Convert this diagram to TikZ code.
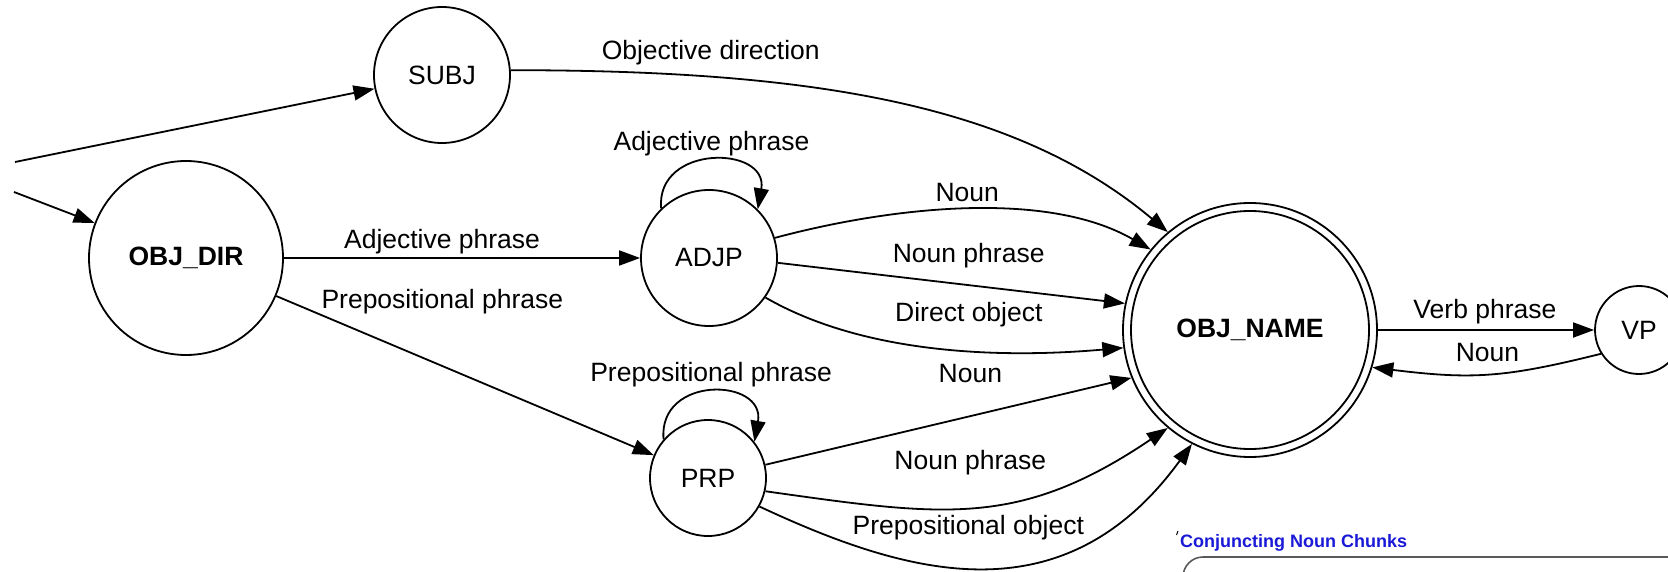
\documentclass[tikz,border=0pt]{standalone}
\usepackage{fontspec}
\setmainfont{Liberation Sans}
\usetikzlibrary{arrows.meta}
\definecolor{cnblue}{RGB}{25,25,215}
\begin{document}
\begin{tikzpicture}[x=1pt,y=1pt,
  every node/.style={font=\fontsize{26.5}{30}\selectfont},
  state/.style={circle, draw, line width=1.8pt, inner sep=0pt},
  boldtext/.style={font=\fontsize{26.5}{30}\selectfont\bfseries},
  edge/.style={line width=1.8pt, -{Triangle[length=21pt,width=15pt]}},
  lbl/.style={inner sep=0pt, anchor=center},
]
\useasboundingbox (0,0) rectangle (1668,-572);
\clip (0,0) rectangle (1668,-572);

% states
\node[state, minimum size=136pt] (subj) at (442,-75) {SUBJ};
\node[state, boldtext, minimum size=194pt] (objdir) at (186,-258) {OBJ\_DIR};
\node[state, minimum size=136pt] (adjp) at (709,-258) {ADJP};
\node[state, minimum size=116pt] (prp) at (708,-478) {PRP};
\node[state, boldtext, minimum size=254pt] (objname) at (1250,-330) {OBJ\_NAME};
\node[state, minimum size=238pt] (objnamein) at (objname.center) {};
\node[state, minimum size=88pt] (vp) at (1639,-330) {VP};

\coordinate (s1) at (15,-162);
\coordinate (s2) at (14,-192);

% edges
\draw[edge] (s1) -- (subj);
\draw[edge] (s2) -- (objdir);
\draw[edge] (objdir) -- node[lbl, pos=0.444, yshift=16pt] {Adjective phrase} (adjp);
\draw[edge] (objdir) -- node[lbl, pos=0.44, yshift=64pt] {Prepositional phrase} (prp);
\draw[edge] (subj.4) to[out=0, in=140, out distance=300pt, in distance=200pt]
  node[lbl, pos=0.24, yshift=24pt] {Objective direction} (objname.130);

\draw[edge] (adjp.134) to[out=95, in=80, distance=65pt]
  node[lbl, pos=0.5, yshift=17pt] {Adjective phrase} (adjp.45);
\draw[edge] (prp.139) to[out=95, in=80, distance=65pt]
  node[lbl, pos=0.5, yshift=18pt] {Prepositional phrase} (prp.38);

\draw[edge] (adjp.17) to[out=15, in=150, distance=120pt]
  node[lbl, pos=0.5, yshift=17pt] {Noun} (objname.141);
\draw[edge] (adjp.-4) -- node[lbl, pos=0.55, yshift=29pt] {Noun phrase} (objname.168);
\draw[edge] (adjp.-35) to[out=-30, in=185, out distance=110pt, in distance=130pt]
  node[lbl, pos=0.6, yshift=36pt] {Direct object} (objname.188);

\draw[edge] (prp.13) -- node[lbl, pos=0.56, yshift=43pt] {Noun} (objname.202);
\draw[edge] (prp.-13) to[out=-8, in=214, distance=180pt]
  node[lbl, pos=0.48, yshift=45pt] {Noun phrase} (objname.230);
\draw[edge] (prp.-29) to[out=-25, in=234, out distance=160pt, in distance=220pt]
  node[lbl, pos=0.47, yshift=40pt] {Prepositional object} (objname.243);

\draw[edge] (objname) -- node[lbl, pos=0.495, yshift=18pt] {Verb phrase} (vp);
\draw[edge] (vp.212) to[out=194, in=-7, distance=100pt]
  node[lbl, pos=0.5, yshift=22pt] {Noun} (objname.-17);

% panel below
\node[anchor=west, inner sep=0pt, text=cnblue,
  font=\fontsize{18}{20}\selectfont\bfseries] (cnc) at (1180,-543) {Conjuncting Noun Chunks};
\draw[line width=1pt] (1176.5,-535) -- (1178,-531);
\draw[line width=1.6pt, draw=black!65, rounded corners=20pt]
  (1183,-640) -- (1183,-557) -- (1720,-557);
\end{tikzpicture}
\end{document}
